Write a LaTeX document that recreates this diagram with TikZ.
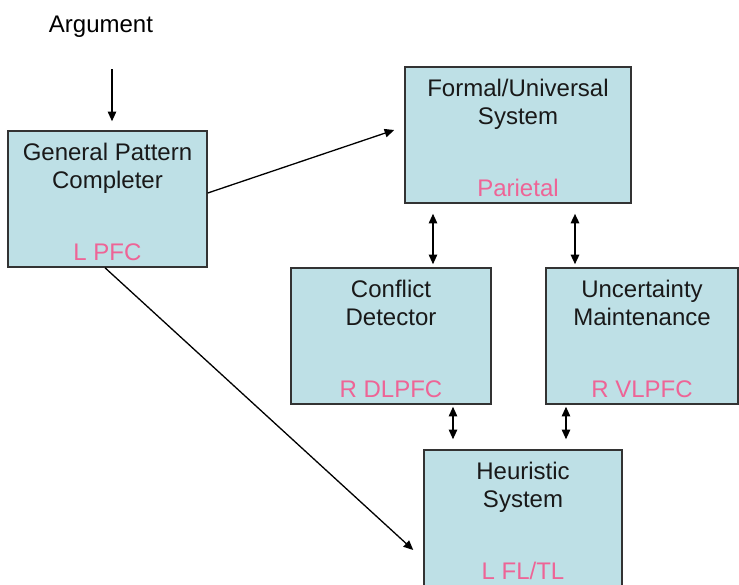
\documentclass[tikz,border=0pt]{standalone}
\usepackage{fontspec}
\setmainfont{Liberation Sans}
\usetikzlibrary{positioning,arrows.meta}
\definecolor{boxblue}{RGB}{190,224,230}
\definecolor{lobepink}{RGB}{238,100,150}

\begin{document}
\begin{tikzpicture}[x=0.5pt, y=-0.5pt, font=\fontsize{12}{14.25}\selectfont]
    \tikzset{
        brainbox/.style = {rectangle, draw=black!80, line width=0.75pt, fill=boxblue, minimum height=68pt, inner sep=0pt},
        title/.style = {inner sep=0pt, align=center, text=black!90},
        lobe/.style = {inner sep=0pt, text=lobepink},
        arrow/.style = {line width=0.65pt, -{Triangle[length=4.8pt, width=4.2pt]}},
        twoway/.style = {line width=0.65pt, {Triangle[length=4.8pt, width=4.2pt]}-{Triangle[length=4.8pt, width=4.2pt]}},
    }
    \useasboundingbox (0,0) rectangle (739,584);

    \node (arg) [inner sep=0pt] at (101,27) {Argument};
    \node (gpc) [brainbox, minimum width=99.5pt] at (107.5,199) {};
    \node (formal) [brainbox, minimum width=113pt] at (518,135) {};
    \node (conflict) [brainbox, minimum width=100pt] at (391,336) {};
    \node (uncert) [brainbox, minimum width=96pt] at (642,336) {};
    \node (heur) [brainbox, minimum width=99pt] at (523,518) {};

    \node [title, below=6pt of gpc.north] {General Pattern\\Completer};
    \node [title, below=6pt of formal.north] {Formal/Universal\\System};
    \node [title, below=6pt of conflict.north] {Conflict\\Detector};
    \node [title, below=6pt of uncert.north] {Uncertainty\\Maintenance};
    \node [title, below=6pt of heur.north] {Heuristic\\System};

    \node [lobe, above=3.5pt of gpc.south, anchor=base] {L PFC};
    \node [lobe, above=3.5pt of formal.south, anchor=base] {Parietal};
    \node [lobe, above=3.5pt of conflict.south, anchor=base] {R DLPFC};
    \node [lobe, above=3.5pt of uncert.south, anchor=base] {R VLPFC};
    \node [lobe, above=3.5pt of heur.south, anchor=base] {L FL/TL};

    \draw [arrow] ([xshift=5.5pt, yshift=-15.5pt]arg.south) -- ([xshift=2.25pt, yshift=4.5pt]gpc.north);
    \draw [arrow] ([yshift=3pt]gpc.east) -- ([xshift=-5pt, yshift=2.5pt]formal.west);
    \draw [arrow] ([xshift=-1.25pt]gpc.south) -- ([xshift=-5pt, yshift=-16pt]heur.west);

    \draw [twoway] ([xshift=-42.5pt, yshift=-5pt]formal.south) -- ([xshift=21pt, yshift=1.5pt]conflict.north);
    \draw [twoway, line width=0.95pt] ([xshift=28.5pt, yshift=-5pt]formal.south) -- ([xshift=-33.5pt, yshift=1.5pt]uncert.north);
    \draw [twoway] ([xshift=31pt, yshift=-1pt]conflict.south) -- ([xshift=-35pt, yshift=5pt]heur.north);
    \draw [twoway] ([xshift=-38pt, yshift=-1pt]uncert.south) -- ([xshift=21.5pt, yshift=5pt]heur.north);
\end{tikzpicture}
\end{document}
